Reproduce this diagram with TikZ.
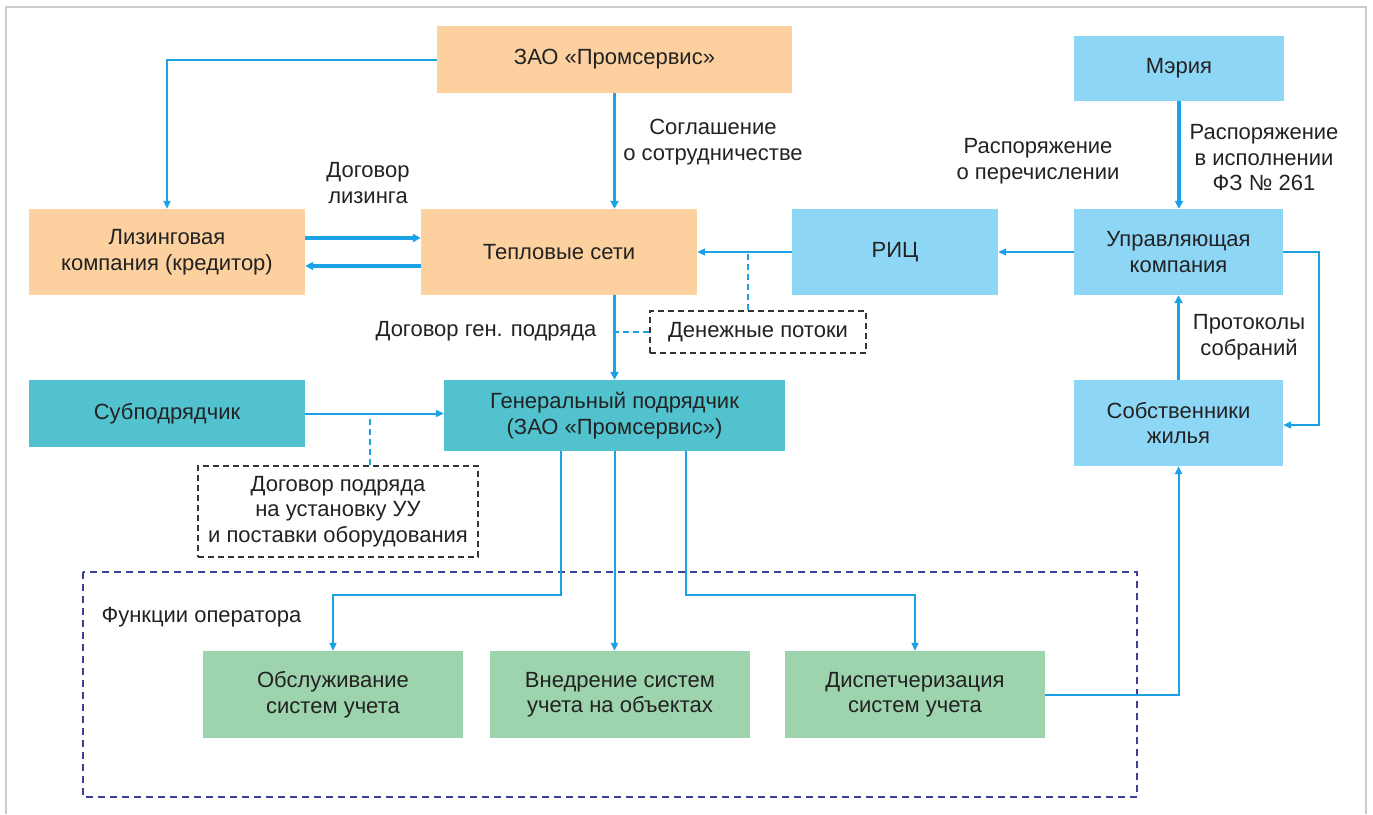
\documentclass[tikz,border=0pt]{standalone}
\usepackage{fontspec}
\setmainfont{Liberation Sans}
\usetikzlibrary{arrows.meta}

\definecolor{peach}{HTML}{FCD09F}
\definecolor{skyblue}{HTML}{8DD6F5}
\definecolor{teal}{HTML}{52C2CE}
\definecolor{mint}{HTML}{9DD3AD}
\definecolor{linkblue}{HTML}{1BA1E6}
\definecolor{navy}{HTML}{3B3F9A}
\definecolor{txt}{HTML}{222222}

\begin{document}
\begin{tikzpicture}[x=1pt, y=-1pt,
    font=\fontsize{22}{25.5}\selectfont, text=txt,
    box/.style={minimum width=#1, align=center, inner sep=0pt},
    orgbox/.style={box=276pt, minimum height=86pt, fill=peach},
    citybox/.style={box=209pt, minimum height=86pt, fill=skyblue},
    workbox/.style={box=276pt, minimum height=67pt, fill=teal},
    funcbox/.style={box=260pt, minimum height=87pt, fill=mint},
    notebox/.style={draw=black!80, dash pattern=on 6pt off 4pt, line width=1.5pt, align=center, inner sep=0pt},
    thinarr/.style={draw=linkblue, line width=2pt, -{Triangle[length=8pt,width=7pt]}},
    thickarr/.style={draw=linkblue, line width=3.2pt, -{Triangle[length=8pt,width=8pt]}},
    dashlink/.style={draw=linkblue, line width=1.8pt, dash pattern=on 6pt off 4pt}]
  \useasboundingbox (0,0) rectangle (1373,814);
  % Outer frame (open at the bottom)
  \draw[black!20, line width=2pt] (6,814) -- (6,7) -- (1366,7) -- (1366,814);

  % Top row
  \node[orgbox, box=355pt, minimum height=67pt] (zao) at (614.5,59.5) {ЗАО «Промсервис»};
  \node[citybox, box=210pt, minimum height=65pt] (meria) at (1179,68.5) {Мэрия};

  % Second row
  \node[orgbox] (lizing) at (167,252) {Лизинговая\\компания (кредитор)};
  \node[orgbox] (teplo) at (559,252) {Тепловые сети};
  \node[citybox, box=206pt] (ric) at (895,252) {РИЦ};
  \node[citybox] (uk) at (1178.5,252) {Управляющая\\компания};

  % Third row
  \node[notebox, minimum width=216pt, minimum height=42pt] (money) at (758,332) {Денежные потоки};
  \node[workbox] (subp) at (167,413.5) {Субподрядчик};
  \node[workbox, box=341pt, minimum height=71pt] (gen) at (614.5,415.5) {Генеральный подрядчик\\(ЗАО «Промсервис»)};
  \node[citybox] (sobst) at (1178.5,423) {Собственники\\жилья};
  \node[notebox, minimum width=280pt, minimum height=91pt] (dogovor) at (338,511.5)
    {Договор подряда\\на установку УУ\\и поставки оборудования};

  % Operator functions
  \draw[navy, dash pattern=on 7pt off 5pt, line width=1.8pt] (83,572) rectangle (1137,797);
  \node[anchor=west] (funclabel) at (98,617) {Функции оператора};
  \node[funcbox] (obsl) at (333,694.5) {Обслуживание\\систем учета};
  \node[funcbox] (vnedr) at (620,694.5) {Внедрение систем\\учета на объектах};
  \node[funcbox] (disp) at (915,694.5) {Диспетчеризация\\систем учета};

  % Connectors
  \draw[thinarr] (zao.west) -| (lizing.north);
  \draw[thickarr] (zao.south) -- (zao.south |- teplo.north);
  \draw[thickarr] ([yshift=14pt]lizing.east) -- ([yshift=14pt]lizing.east -| teplo.west);
  \draw[thickarr] ([yshift=-14pt]teplo.west) -- ([yshift=-14pt]teplo.west -| lizing.east);
  \draw[thinarr] (ric.west) -- (teplo.east);
  \draw[thinarr] (uk.west) -- (ric.east);
  \draw[thickarr] (meria.south) -- (meria.south |- uk.north);
  \draw[thickarr] (sobst.north) -- (sobst.north |- uk.south);
  \draw[thinarr] (uk.east) -- ++(36,0) |- ([yshift=-2pt]sobst.east);
  \draw[thickarr] (gen.north |- teplo.south) -- (gen.north);
  \draw[thinarr] (subp.east) -- (subp.east -| gen.west);
  \draw[thinarr] ([xshift=-54pt]gen.south) -- ++(0,144) -| (obsl.north);
  \draw[thinarr] (gen.south) -- (gen.south |- vnedr.north);
  \draw[thinarr] ([xshift=71pt]gen.south) -- ++(0,144) -| (disp.north);
  \draw[thinarr] (disp.east) -| (sobst.south);

  % Dashed links to the notes
  \draw[dashlink] ([xshift=-10pt]money.north) -- ([xshift=-10pt]money.north |- teplo.east);
  \draw[dashlink] (money.west) -- (money.west -| gen.north);
  \draw[dashlink] ([xshift=32pt]dogovor.north) -- ([xshift=32pt]dogovor.north |- subp.east);

  % Connector labels
  \node[align=center] (lbl-coop) at (713,142) {Соглашение\\о сотрудничестве};
  \node[align=center] (lbl-lease) at (368,183) {Договор\\лизинга};
  \node[align=center] (lbl-transfer) at (1038,161) {Распоряжение\\о перечислении};
  \node[align=center] (lbl-order) at (1264,158) {Распоряжение\\в исполнении\\ФЗ № 261};
  \node[anchor=east] (lbl-gen) at (600,331) {Договор ген. подряда};
  \node[align=center] (lbl-meet) at (1249,337) {Протоколы\\собраний};
\end{tikzpicture}
\end{document}
